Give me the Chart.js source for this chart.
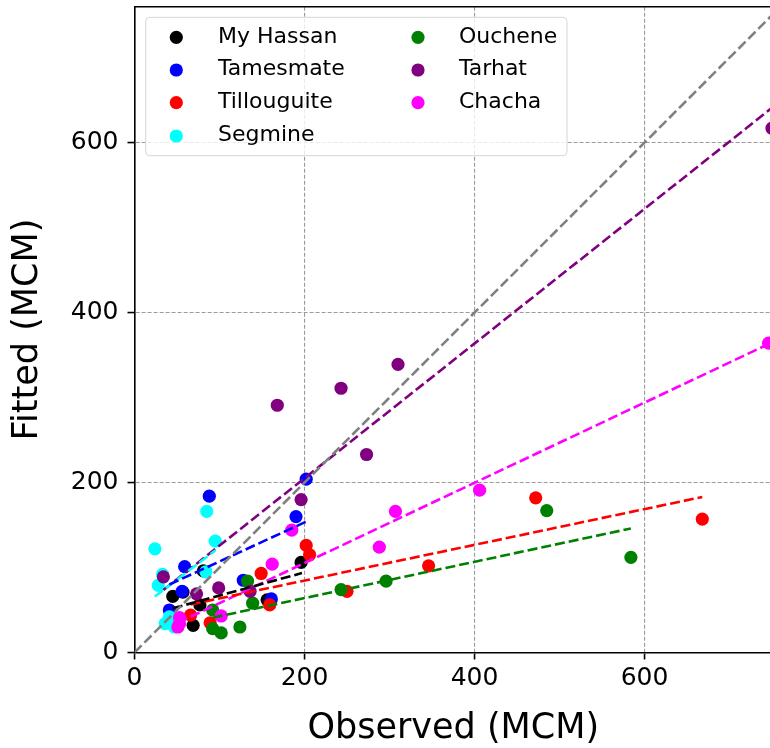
<!DOCTYPE html>
<html lang="en">
<head>
    <meta charset="UTF-8">
    <title>Observed vs Fitted (MCM)</title>
    <script src="https://cdn.jsdelivr.net/npm/chart.js"></script>
    <style>
        html, body { margin: 0; padding: 0; background: #fff; overflow: hidden; }
        #wrap { width: 770px; height: 748px; overflow: hidden; }
        #fitChart { display: block; }
    </style>
</head>
<body>
<div id="wrap"><canvas id="fitChart" width="780" height="748"></canvas></div>
<script>
    // series names and colours (legend order)
    const seriesNames = ['My Hassan', 'Tamesmate', 'Tillouguite', 'Segmine', 'Ouchene', 'Tarhat', 'Chacha'];
    const seriesColors = ['#000000', '#0000ff', '#ff0000', '#00ffff', '#008000', '#800080', '#ff00ff'];

    // observed (x) / fitted (y) values
    const hassanX = [45, 57, 69, 77, 81, 156, 196];
    const hassanY = [66, 71, 32, 56, 96, 62, 106];
    const tamesmateX = [41, 56, 59, 88, 128, 161, 190, 202];
    const tamesmateY = [50, 72, 101, 184, 85, 63, 160, 204];
    const tillouguiteX = [66, 89, 149, 159, 202, 206, 250, 346, 472, 668];
    const tillouguiteY = [44, 35, 93, 56, 126, 115, 72, 102, 182, 157];
    const segmineX = [24, 28, 33, 36, 41, 47, 84, 85, 95];
    const segmineY = [122, 79, 92, 34, 42, 30, 95, 166, 131];
    const oucheneX = [92, 92, 102, 124, 133, 139, 243, 296, 485, 584];
    const oucheneY = [50, 28, 23, 30, 84, 58, 74, 84, 167, 112];
    const tarhatX = [34, 73, 99, 136, 168, 196, 243, 273, 310, 750];
    const tarhatY = [89, 69, 76, 72, 291, 180, 311, 233, 339, 617];
    const chachaX = [51, 53, 53, 102, 162, 185, 288, 307, 406, 746];
    const chachaY = [30, 41, 34, 43, 104, 144, 124, 166, 191, 364];

    // dashed fit lines, [start, end] per series
    const fitX = [[45, 197], [41, 202], [66, 668], [24, 95], [92, 584], [34, 750], [51, 746]];
    const fitY = [[52, 93.5], [80, 154], [56.5, 183], [66, 120], [41, 146], [73.5, 641], [35, 363]];

    // 1:1 reference line
    const oneToOne = [0, 760];

    const xTicks = [0, 200, 400, 600];
    const yTicks = [0, 200, 400, 600];

    const seriesX = [hassanX, tamesmateX, tillouguiteX, segmineX, oucheneX, tarhatX, chachaX];
    const seriesY = [hassanY, tamesmateY, tillouguiteY, segmineY, oucheneY, tarhatY, chachaY];

    const FONT = 'DejaVu Sans';

    const scatterSets = seriesNames.map((name, i) => ({
        label: name,
        data: seriesX[i].map((x, j) => ({ x: x, y: seriesY[i][j] })),
        backgroundColor: seriesColors[i],
        borderWidth: 0,
        pointRadius: 6.6,
        order: 20 - i
    }));

    const fitSets = seriesNames.map((name, i) => ({
        label: name + ' fit',
        isFit: true,
        data: [{ x: fitX[i][0], y: fitY[i][0] }, { x: fitX[i][1], y: fitY[i][1] }],
        showLine: true,
        borderColor: seriesColors[i],
        borderWidth: 2.6,
        borderDash: [10, 4],
        pointRadius: 0,
        order: 1 + i
    }));

    const refSet = {
        label: '1:1',
        isFit: true,
        data: [{ x: oneToOne[0], y: oneToOne[0] }, { x: oneToOne[1], y: oneToOne[1] }],
        showLine: true,
        borderColor: '#808080',
        borderWidth: 2.6,
        borderDash: [10, 4],
        pointRadius: 0,
        order: 0
    };

    // top/right spines and the matplotlib-like legend box inside the axes
    const framePlugin = {
        id: 'frame',
        afterDatasetsDraw(chart) {
            const { ctx, chartArea: a } = chart;
            ctx.save();
            ctx.strokeStyle = '#000';
            ctx.lineWidth = 1.6;
            ctx.beginPath();
            ctx.moveTo(a.left, a.top);
            ctx.lineTo(a.right, a.top);
            ctx.lineTo(a.right, a.bottom);
            ctx.stroke();
            ctx.restore();
        },
        afterDraw(chart) {
            const ctx = chart.ctx;
            const items = chart.data.datasets.filter(d => !d.isFit);
            ctx.save();
            ctx.beginPath();
            ctx.roundRect(145.7, 17.3, 421.3, 138.4, 4);
            ctx.fillStyle = 'rgba(255,255,255,0.8)';
            ctx.fill();
            ctx.strokeStyle = '#d6d6d6';
            ctx.lineWidth = 1;
            ctx.stroke();
            ctx.font = '22px "' + FONT + '"';
            ctx.textBaseline = 'middle';
            ctx.textAlign = 'left';
            const rowsY = [37.3, 70, 102.7, 136];
            items.forEach((d, i) => {
                const col = i < 4 ? 0 : 1;
                const row = i < 4 ? i : i - 4;
                const mx = col === 0 ? 176.3 : 418;
                const tx = col === 0 ? 218 : 459;
                const y = rowsY[row];
                ctx.fillStyle = d.backgroundColor;
                ctx.beginPath();
                ctx.arc(mx, y, 6.6, 0, Math.PI * 2);
                ctx.fill();
                ctx.fillStyle = '#000';
                ctx.fillText(d.label, tx, y - 0.5);
            });
            ctx.restore();
        }
    };

    const gridOpts = {
        color: '#9a9a9a',
        lineWidth: 1.1,
        drawTicks: true,
        tickLength: 7,
        tickColor: '#000',
        tickWidth: 1.6,
        tickBorderDash: []
    };

    new Chart(document.getElementById('fitChart'), {
        type: 'scatter',
        data: { datasets: [...scatterSets, ...fitSets, refSet] },
        options: {
            responsive: false,
            animation: false,
            devicePixelRatio: 1,
            layout: { padding: { left: 0, top: 6.7, right: 8, bottom: 0 } },
            plugins: { legend: { display: false }, tooltip: { enabled: false } },
            scales: {
                x: {
                    type: 'linear',
                    min: 0,
                    max: 750,
                    afterBuildTicks: s => { s.ticks = xTicks.map(v => ({ value: v })); },
                    afterFit: s => { s.height = 95.5; s.paddingLeft = 0; s.paddingRight = 0; },
                    ticks: { color: '#000', padding: 4, font: { family: FONT, size: 25 } },
                    grid: gridOpts,
                    border: { display: true, color: '#000', width: 1.6, dash: [4, 2] },
                    title: {
                        display: true,
                        text: 'Observed (MCM)',
                        color: '#000',
                        font: { family: FONT, size: 35, lineHeight: 1 },
                        padding: { top: 0, bottom: 1.5 }
                    }
                },
                y: {
                    type: 'linear',
                    min: 0,
                    max: 760,
                    afterBuildTicks: s => { s.ticks = yTicks.map(v => ({ value: v })); },
                    afterFit: s => { s.width = 134.5; s.paddingTop = 0; s.paddingBottom = 0; },
                    ticks: { color: '#000', padding: 9, font: { family: FONT, size: 25 } },
                    grid: gridOpts,
                    border: { display: true, color: '#000', width: 1.6, dash: [4, 2] },
                    title: {
                        display: true,
                        text: 'Fitted (MCM)',
                        color: '#000',
                        font: { family: FONT, size: 35, lineHeight: 1 },
                        padding: { top: 10, bottom: 0 }
                    }
                }
            }
        },
        plugins: [framePlugin]
    });
</script>
</body>
</html>
